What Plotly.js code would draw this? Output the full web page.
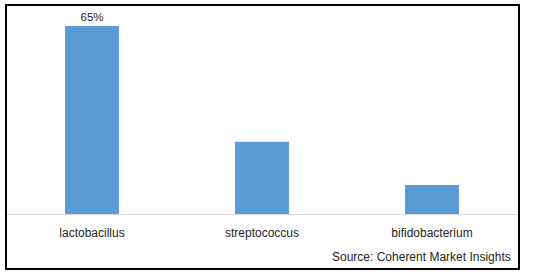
<!DOCTYPE html>
<html>
<head>
<meta charset="utf-8">
<script src="https://cdn.plot.ly/plotly-3.0.1.min.js"></script>
<style>
html,body{margin:0;padding:0;background:#fff;}
#wrap{position:relative;width:538px;height:272px;}
#chart{position:absolute;left:0;top:0;width:538px;height:272px;}
#frame{position:absolute;left:5px;top:4px;width:511px;height:262px;border:2px solid #000;pointer-events:none;}
</style>
</head>
<body>
<div id="wrap"><div id="chart"></div><div id="frame"></div></div>
<script>
const categories = ["lactobacillus", "streptococcus", "bifidobacterium"];
const shares = [65, 25, 10];
const barLabels = ["65%", "", ""];
const sourceText = "Source: Coherent Market Insights";

const font = "Liberation Sans, Arial, sans-serif";

Plotly.newPlot("chart", [{
  type: "bar",
  x: categories,
  y: shares,
  text: barLabels,
  textposition: "outside",
  cliponaxis: false,
  textfont: {family: font, size: 11.5, color: "#262626"},
  marker: {color: "#5b9bd5"},
  width: 0.317,
  hoverinfo: "none"
}], {
  width: 538, height: 272,
  margin: {l: 7, r: 21, t: 5, b: 58},
  paper_bgcolor: "#fff", plot_bgcolor: "#fff",
  showlegend: false,
  xaxis: {
    type: "category",
    range: [-0.5, 2.5],
    showline: true, linecolor: "#d9d9d9", linewidth: 1,
    showgrid: false, ticks: "",
    ticklabelstandoff: 8,
    tickfont: {family: font, size: 12, color: "#262626"},
    fixedrange: true
  },
  yaxis: {
    range: [0, 72.3],
    visible: false, showgrid: false, zeroline: false,
    fixedrange: true
  },
  annotations: [{
    text: sourceText, xref: "paper", yref: "paper",
    x: 0.992, y: -0.206, xanchor: "right", yanchor: "middle",
    showarrow: false,
    font: {family: font, size: 12, color: "#262626"}
  }]
}, {displayModeBar: false, staticPlot: true});
</script>
</body>
</html>
